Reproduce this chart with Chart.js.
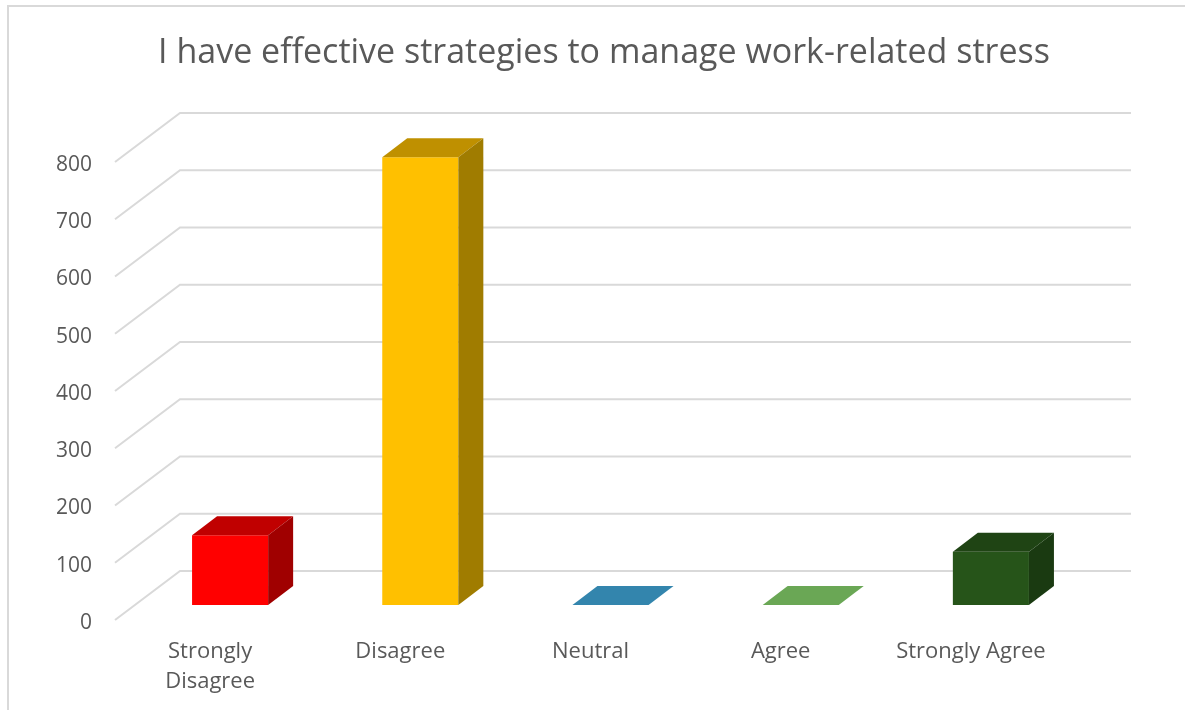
<!DOCTYPE html>
<html>
<head>
<meta charset="utf-8">
<title>Work-related stress strategies</title>
<script src="https://cdn.jsdelivr.net/npm/chart.js@4/dist/chart.umd.min.js"></script>
<style>
  html, body { margin: 0; padding: 0; background: #ffffff; }
  #wrap { width: 1185px; height: 710px; position: relative; }
</style>
</head>
<body>
<div id="wrap"><canvas id="chart" width="1185" height="710"></canvas></div>
<script>
// Survey responses
const categories = [['Strongly', 'Disagree'], 'Disagree', 'Neutral', 'Agree', 'Strongly Agree'];
const responses = [122, 782, 0, 0, 93];
const yTickValues = [0, 100, 200, 300, 400, 500, 600, 700, 800];

// Face colours of each 3D column (front / top / right side)
const frontColors = ['#FF0000', '#FFC000', '#3E95C0', '#70AD47', '#265419'];
const topColors   = ['#C00000', '#BF9000', '#3385AD', '#6AA755', '#1F4414'];
const sideColors  = ['#A00000', '#A07C00', '#2A6E8F', '#578C45', '#1A3A11'];

const TEXT = '#595959';
const GRID = '#D9D9D9';

// Oblique projection offsets relative to the plane of the column fronts
const BAR_DEPTH = { dx: 25, dy: 19 };   // column thickness
const BACK_WALL = { dx: 45, dy: 34 };   // back wall of the plot
const FRONT_EDGE = { dx: -20, dy: 15 }; // front edge where the axis labels sit

const frame = {
  id: 'frame',
  beforeDraw(chart) {
    const ctx = chart.ctx;
    ctx.save();
    ctx.strokeStyle = GRID;
    ctx.lineWidth = 2;
    ctx.beginPath();
    ctx.moveTo(8, chart.height);
    ctx.lineTo(8, 6);
    ctx.lineTo(chart.width, 6);
    ctx.stroke();
    ctx.restore();
  }
};

const walls = {
  id: 'walls',
  beforeDatasetsDraw(chart) {
    const ctx = chart.ctx;
    const y = chart.scales.y;
    const { left, right } = chart.chartArea;
    ctx.save();
    ctx.strokeStyle = GRID;
    ctx.lineWidth = 2;
    y.ticks.forEach(t => {
      const py = y.getPixelForValue(t.value);
      ctx.beginPath();
      ctx.moveTo(left + FRONT_EDGE.dx, py + FRONT_EDGE.dy);
      ctx.lineTo(left + BACK_WALL.dx, py - BACK_WALL.dy);
      ctx.lineTo(right + BACK_WALL.dx, py - BACK_WALL.dy);
      ctx.stroke();
    });
    ctx.restore();
  },
  afterDatasetsDraw(chart) {
    const ctx = chart.ctx;
    const meta = chart.getDatasetMeta(0);
    ctx.save();
    meta.data.forEach((bar, i) => {
      const { x, y, base, width } = bar.getProps(['x', 'y', 'base', 'width'], true);
      const l = x - width / 2, r = x + width / 2;
      const { dx, dy } = BAR_DEPTH;
      // top face
      ctx.fillStyle = topColors[i];
      ctx.beginPath();
      ctx.moveTo(l, y);
      ctx.lineTo(r, y);
      ctx.lineTo(r + dx, y - dy);
      ctx.lineTo(l + dx, y - dy);
      ctx.closePath();
      ctx.fill();
      // right side face
      if (base - y > 0.5) {
        ctx.fillStyle = sideColors[i];
        ctx.beginPath();
        ctx.moveTo(r, y);
        ctx.lineTo(r + dx, y - dy);
        ctx.lineTo(r + dx, base - dy);
        ctx.lineTo(r, base);
        ctx.closePath();
        ctx.fill();
      }
    });
    ctx.restore();
  }
};

new Chart(document.getElementById('chart'), {
  type: 'bar',
  data: {
    labels: categories,
    datasets: [{
      data: responses,
      backgroundColor: frontColors,
      borderWidth: 0,
      barPercentage: 0.4,
      categoryPercentage: 1.0
    }]
  },
  options: {
    responsive: false,
    animation: false,
    devicePixelRatio: 1,
    layout: { padding: { left: 23, right: 0, top: 0, bottom: 0 } },
    plugins: {
      legend: { display: false },
      tooltip: { enabled: false },
      title: {
        display: true,
        text: 'I have effective strategies to manage work-related stress',
        color: TEXT,
        font: { family: '"Open Sans", sans-serif', size: 34, weight: 'normal', lineHeight: 1.2 },
        padding: { top: 33.2, bottom: 73 }
      }
    },
    scales: {
      x: {
        grid: { display: false, drawTicks: false },
        border: { display: false },
        ticks: {
          color: TEXT,
          font: { family: '"Open Sans", sans-serif', size: 22, lineHeight: '30px' },
          padding: 32,
          labelOffset: FRONT_EDGE.dx,
          maxRotation: 0,
          autoSkip: false
        },
        afterFit(s) { s.height = 105; }
      },
      y: {
        min: 0,
        max: 800,
        grid: { display: false, drawTicks: false },
        border: { display: false },
        afterBuildTicks(s) { s.ticks = yTickValues.map(v => ({ value: v })); },
        ticks: {
          color: TEXT,
          font: { family: '"Open Sans", sans-serif', size: 21 },
          padding: 43,
          labelOffset: FRONT_EDGE.dy + 3
        },
        afterFit(s) { s.width = 112; }
      },
      // empty right-hand strip that leaves room for the receding back wall
      wallSpace: {
        position: 'right',
        display: true,
        grid: { display: false, drawTicks: false },
        border: { display: false },
        ticks: { display: false },
        afterFit(s) { s.width = 99; }
      }
    }
  },
  plugins: [frame, walls]
});
</script>
</body>
</html>
